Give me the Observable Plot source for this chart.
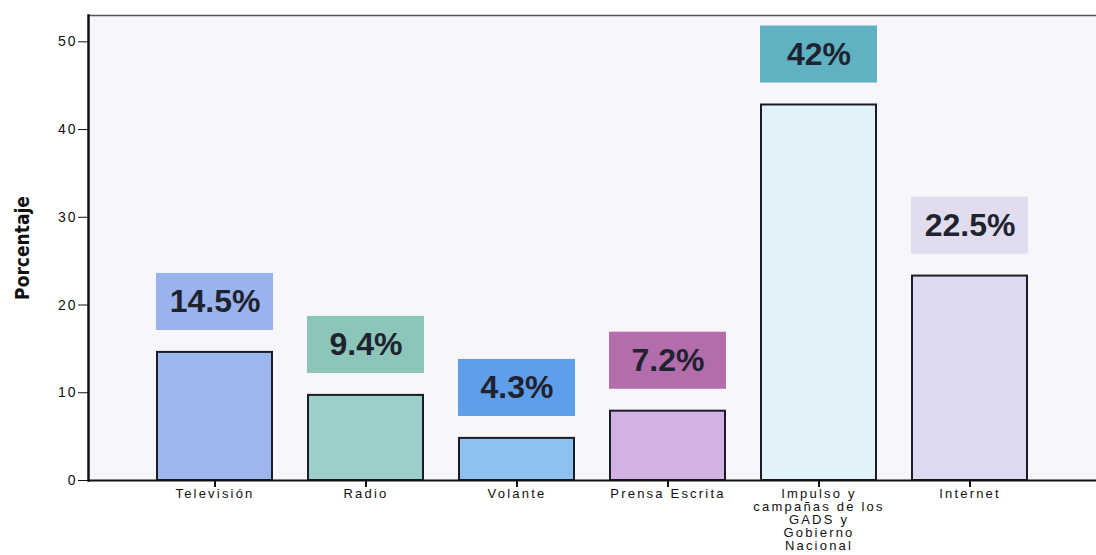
<!DOCTYPE html>
<html><head><meta charset="utf-8">
<script src="https://cdn.jsdelivr.net/npm/d3@7"></script>
<script src="https://cdn.jsdelivr.net/npm/@observablehq/plot@0.6"></script>
<style>
html,body{margin:0;padding:0;background:#fff;}
</style>
</head><body>
<div id="chart"></div>
<script>
const categories = ["Televisión", "Radio", "Volante", "Prensa Escrita", "Impulso y campañas de los GADS y Gobierno Nacional", "Internet"];
const tickLabels = ["Televisión", "Radio", "Volante", "Prensa Escrita", "Impulso y\ncampañas de los\nGADS y\nGobierno\nNacional", "Internet"];
const values = [14.6, 9.7, 4.8, 7.9, 42.8, 23.3];
const valueLabels = ["14.5%", "9.4%", "4.3%", "7.2%", "42%", "22.5%"];
const barColors = ["#9cb6ee", "#9ccfca", "#8fc1f0", "#d2b1e4", "#e1f2f8", "#dcd9f1"];
const boxColors = ["#9bb3ec", "#8cc5b9", "#5f9fe9", "#b36cac", "#60b2c3", "#e1ddef"];
const yTicks = [0, 10, 20, 30, 40, 50];

const data = categories.map((c, i) => ({
  cat: c, tick: tickLabels[i], value: values[i], label: valueLabels[i],
  bar: barColors[i], box: boxColors[i]
}));
const tickMap = new Map(data.map(d => [d.cat, d.tick]));

const chart = Plot.plot({
  width: 1096,
  height: 555,
  marginLeft: 88,
  marginRight: 0,
  marginTop: 15,
  marginBottom: 75,
  style: {fontFamily: "'Liberation Sans', Arial, sans-serif", fontSize: "14px", background: "#fff", color: "#111"},
  x: {domain: categories, paddingInner: 0.24, paddingOuter: 0.445, label: null},
  y: {domain: [0, 53], label: null},
  marks: [
    Plot.frame({fill: "#f6f6fb", stroke: null}),
    Plot.ruleY([53], {stroke: "#555", strokeWidth: 1.5}),
    Plot.barY(data, {x: "cat", y: "value", fill: "bar", stroke: "#1c1c28", strokeWidth: 2}),
    Plot.barY(data, {x: "cat", y1: d => d.value + 2.5, y2: d => d.value + 9.0, fill: "box", insetLeft: -1, insetRight: -1}),
    Plot.text(data, {x: "cat", y: d => d.value + 5.75, text: "label", fontSize: 32, fontWeight: "bold", fill: "#1f2330", fontFamily: "'Liberation Sans', Arial, sans-serif"}),
    Plot.axisY({ticks: yTicks, tickSize: 10, tickPadding: 1, fontSize: 14, label: null, stroke: "#111", fill: "#111"}),
    Plot.axisX({tickSize: 7, tickPadding: 1, fontSize: 13, lineHeight: 1.0, label: null, tickFormat: d => tickMap.get(d), stroke: "#111", strokeWidth: 2, fill: "#111"}),
    Plot.ruleY([0], {stroke: "#111", strokeWidth: 2}),
    Plot.frame({anchor: "left", stroke: "#111", strokeWidth: 2.5}),
    Plot.text(["Porcentaje"], {frameAnchor: "left", textAnchor: "middle", text: d => d, rotate: -90, dx: -66, fontSize: 19, fontWeight: "bold", fill: "#111", fontFamily: "'Liberation Sans Narrow', 'DejaVu Sans Condensed', 'Liberation Sans', sans-serif"})
  ]
});
d3.select(chart).selectAll("g[aria-label='x-axis tick label'] text").style("letter-spacing", "2.2px");
d3.select(chart).selectAll("g[aria-label='y-axis tick label'] text").style("letter-spacing", "2px");
document.getElementById("chart").appendChild(chart);
</script>
</body></html>
